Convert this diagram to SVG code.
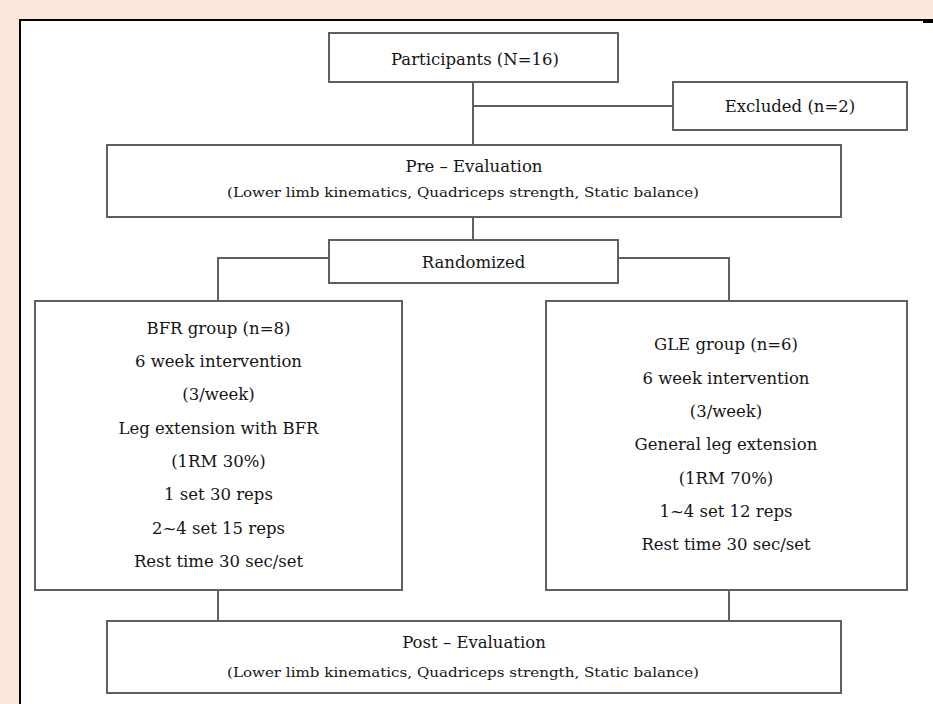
<svg xmlns="http://www.w3.org/2000/svg" width="933" height="704" viewBox="0 0 933 704">
  <style>
    .box { fill: #ffffff; stroke: #5f5f5f; stroke-width: 2; }
    .conn { fill: none; stroke: #5f5f5f; stroke-width: 2; }
    .t { font-family: "DejaVu Serif", "Liberation Serif", serif; font-size: 16.5px; fill: #151515; text-anchor: middle; }
    .s { font-family: "DejaVu Serif", "Liberation Serif", serif; font-size: 13.5px; fill: #151515; text-anchor: middle; }
  </style>
  <rect x="0" y="0" width="933" height="704" fill="#fbe8da"/>
  <rect x="20" y="20" width="913" height="684" fill="#ffffff"/>
  <path d="M20 704 V20 H923" fill="none" stroke="#000000" stroke-width="2"/>
  <rect x="923" y="19" width="10" height="4" fill="#000000"/>

  <g id="connectors">
    <path class="conn" d="M473 82 V145"/>
    <path class="conn" d="M473 106 H673"/>
    <path class="conn" d="M473 217 V240"/>
    <path class="conn" d="M329 258 H218 V301"/>
    <path class="conn" d="M618 258 H729 V301"/>
    <path class="conn" d="M218 590 V621"/>
    <path class="conn" d="M729 590 V621"/>
  </g>

  <g id="participants">
    <rect class="box" x="329" y="33" width="289" height="49"/>
    <text class="t" x="475" y="65">Participants (N=16)</text>
  </g>
  <g id="excluded">
    <rect class="box" x="673" y="82" width="234" height="48"/>
    <text class="t" x="790" y="112">Excluded (n=2)</text>
  </g>
  <g id="pre-evaluation">
    <rect class="box" x="107" y="145" width="734" height="72"/>
    <text class="t" x="474" y="172">Pre – Evaluation</text>
    <text class="s" x="463" y="197" textLength="472" lengthAdjust="spacingAndGlyphs">(Lower limb kinematics, Quadriceps strength, Static balance)</text>
  </g>
  <g id="randomized">
    <rect class="box" x="329" y="240" width="289" height="43"/>
    <text class="t" x="473.5" y="268">Randomized</text>
  </g>
  <g id="bfr-group">
    <rect class="box" x="35" y="301" width="367" height="289"/>
    <text class="t" x="218.5" y="334">BFR group (n=8)</text>
    <text class="t" x="218.5" y="367">6 week intervention</text>
    <text class="t" x="218.5" y="400">(3/week)</text>
    <text class="t" x="218.5" y="434">Leg extension with BFR</text>
    <text class="t" x="218.5" y="467">(1RM 30%)</text>
    <text class="t" x="218.5" y="500">1 set 30 reps</text>
    <text class="t" x="218.5" y="534">2~4 set 15 reps</text>
    <text class="t" x="218.5" y="567">Rest time 30 sec/set</text>
  </g>
  <g id="gle-group">
    <rect class="box" x="546" y="301" width="361" height="289"/>
    <text class="t" x="726" y="350">GLE group (n=6)</text>
    <text class="t" x="726" y="384">6 week intervention</text>
    <text class="t" x="726" y="417">(3/week)</text>
    <text class="t" x="726" y="450">General leg extension</text>
    <text class="t" x="726" y="484">(1RM 70%)</text>
    <text class="t" x="726" y="517">1~4 set 12 reps</text>
    <text class="t" x="726" y="550">Rest time 30 sec/set</text>
  </g>
  <g id="post-evaluation">
    <rect class="box" x="107" y="621" width="734" height="72"/>
    <text class="t" x="474" y="648">Post – Evaluation</text>
    <text class="s" x="463" y="677" textLength="472" lengthAdjust="spacingAndGlyphs">(Lower limb kinematics, Quadriceps strength, Static balance)</text>
  </g>
</svg>
